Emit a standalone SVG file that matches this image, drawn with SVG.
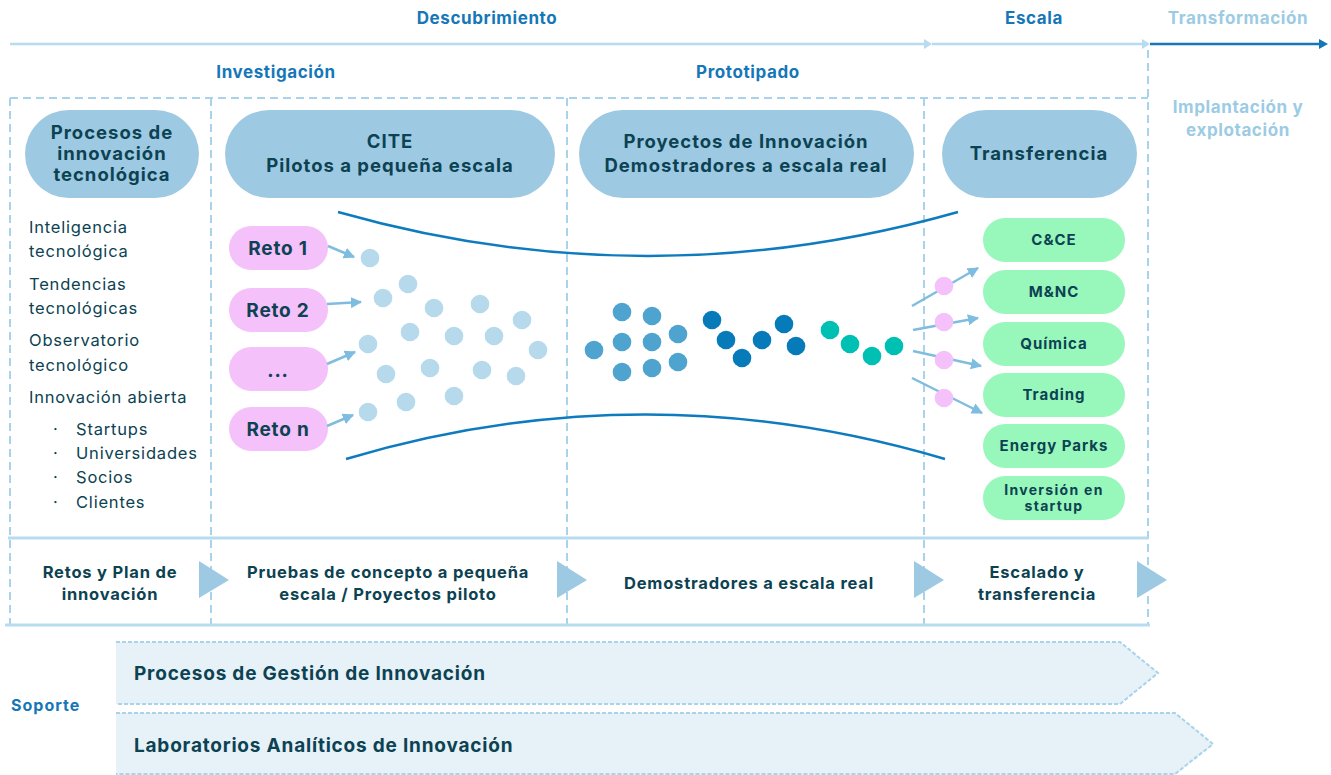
<svg xmlns="http://www.w3.org/2000/svg" width="1331" height="775" viewBox="0 0 1331 775">
<defs>
<style>
text{font-family:"Inter","Liberation Sans",sans-serif;}
.b{font-weight:700;}
.blue{fill:#1577b8;}
.lb{fill:#9ccbe4;}
.hd{font-size:17px;font-weight:700;letter-spacing:0.6px;}
.pill{fill:#9dcae2;}
.pt{font-size:18.5px;font-weight:700;fill:#0c4252;text-anchor:middle;letter-spacing:1px;}
.li{font-size:16.5px;fill:#0c4252;letter-spacing:0.8px;}
.reto{fill:#f4c1fa;}
.rt{font-size:19px;font-weight:700;fill:#0c4252;text-anchor:middle;letter-spacing:0.8px;}
.grn{fill:#98f7bb;}
.gt{font-size:15px;font-weight:700;fill:#0c4252;text-anchor:middle;letter-spacing:1px;}
.gs{font-size:14px;font-weight:700;fill:#0c4252;text-anchor:middle;letter-spacing:1.3px;}
.bt{font-size:16.5px;font-weight:700;fill:#0c4252;text-anchor:middle;letter-spacing:0.8px;}
.dash{stroke:#a9d3ea;stroke-width:2;stroke-dasharray:8 5;fill:none;}
.sol{stroke:#b7dcef;stroke-width:3;fill:none;}
.d1{fill:#b6d9ec;}
.d2{fill:#4fa3cf;}
.d3{fill:#077bba;}
.d4{fill:#00bfb3;}
.pk{fill:#f4c1fa;}
.arr{stroke:#7fbde0;stroke-width:2.5;fill:none;marker-end:url(#ah);}
.curve{stroke:#0e7bbf;stroke-width:2.5;fill:none;}
.tri{fill:#9dcae2;}
.band{fill:#e6f1f8;}
.bdash{stroke:#a9d3ea;stroke-width:2;stroke-dasharray:4 2;fill:none;}
.st{font-size:19px;font-weight:700;fill:#0c4252;letter-spacing:0.8px;}
</style>
<marker id="ah" viewBox="0 0 10 10" refX="9" refY="5" markerWidth="4.5" markerHeight="4.5" orient="auto" markerUnits="strokeWidth">
<path d="M0,0 L10,5 L0,10 z" fill="#7fbde0"/>
</marker>
</defs>
<rect width="1331" height="775" fill="#ffffff"/>

<!-- top phase arrow -->
<g id="phase-arrow">
<line x1="10" y1="44" x2="926" y2="44" stroke="#b7dcef" stroke-width="2.5"/>
<path d="M924,39 L932,44 L924,49 z" fill="#b7dcef"/>
<line x1="932" y1="44" x2="1144" y2="44" stroke="#b7dcef" stroke-width="2.5"/>
<path d="M1142,39 L1150,44 L1142,49 z" fill="#b7dcef"/>
<line x1="1150" y1="44" x2="1321" y2="44" stroke="#1577b8" stroke-width="2.5"/>
<path d="M1319,39 L1328,44 L1319,49 z" fill="#1577b8"/>
<text x="487" y="24" class="hd blue" text-anchor="middle">Descubrimiento</text>
<text x="1034" y="24" class="hd blue" text-anchor="middle">Escala</text>
<text x="1238" y="24" class="hd lb" text-anchor="middle">Transformación</text>
<text x="276" y="78" class="hd blue" text-anchor="middle">Investigación</text>
<text x="748" y="78" class="hd blue" text-anchor="middle">Prototipado</text>
<text x="1238" y="113" class="hd lb" text-anchor="middle">Implantación y</text>
<text x="1238" y="136" class="hd lb" text-anchor="middle">explotación</text>
</g>

<!-- frame -->
<g id="frame">
<line x1="10" y1="98" x2="1148" y2="98" class="dash"/>
<line x1="10" y1="98" x2="10" y2="625" class="dash"/>
<line x1="211" y1="98" x2="211" y2="625" class="dash"/>
<line x1="567" y1="98" x2="567" y2="625" class="dash"/>
<line x1="924" y1="98" x2="924" y2="625" class="dash"/>
<line x1="1148" y1="50" x2="1148" y2="625" class="dash"/>
<line x1="8" y1="538" x2="1148" y2="538" class="sol"/>
<line x1="5" y1="625" x2="1150" y2="625" class="sol"/>
</g>

<!-- column headers -->
<g id="procesos-innovacion">
<rect x="25" y="110" width="174" height="88" rx="44" class="pill"/>
<text x="112" y="139" class="pt">Procesos de</text>
<text x="112" y="160" class="pt">innovación</text>
<text x="112" y="181" class="pt">tecnológica</text>
</g>
<g id="cite">
<rect x="225" y="110" width="330" height="88" rx="44" class="pill"/>
<text x="390" y="148" class="pt">CITE</text>
<text x="390" y="172" class="pt">Pilotos a pequeña escala</text>
</g>
<g id="proyectos-innovacion">
<rect x="579" y="110" width="335" height="88" rx="44" class="pill"/>
<text x="746" y="148" class="pt">Proyectos de Innovación</text>
<text x="746" y="172" class="pt">Demostradores a escala real</text>
</g>
<g id="transferencia">
<rect x="942" y="110" width="195" height="88" rx="44" class="pill"/>
<text x="1039" y="160" class="pt">Transferencia</text>
</g>

<!-- left list -->
<g id="lista-procesos">
<text x="29" y="233" class="li">Inteligencia</text>
<text x="29" y="257" class="li">tecnológica</text>
<text x="29" y="290" class="li">Tendencias</text>
<text x="29" y="314" class="li">tecnológicas</text>
<text x="29" y="346" class="li">Observatorio</text>
<text x="29" y="371" class="li">tecnológico</text>
<text x="29" y="403" class="li">Innovación abierta</text>
<text x="53" y="435" class="li">·</text><text x="76" y="435" class="li">Startups</text>
<text x="53" y="459" class="li">·</text><text x="76" y="459" class="li">Universidades</text>
<text x="53" y="483" class="li">·</text><text x="76" y="483" class="li">Socios</text>
<text x="53" y="508" class="li">·</text><text x="76" y="508" class="li">Clientes</text>
</g>

<!-- retos -->
<g id="reto-1"><rect x="229" y="226" width="99" height="44" rx="22" class="reto"/><text x="278" y="255" class="rt">Reto 1</text></g>
<g id="reto-2"><rect x="229" y="288" width="99" height="44" rx="22" class="reto"/><text x="278" y="317" class="rt">Reto 2</text></g>
<g id="reto-dots"><rect x="229" y="347" width="99" height="44" rx="22" class="reto"/><text x="278" y="377" class="rt">...</text></g>
<g id="reto-n"><rect x="229" y="407" width="99" height="44" rx="22" class="reto"/><text x="278" y="436" class="rt">Reto n</text></g>

<!-- funnel curves -->
<g id="funnel">
<path d="M338,212 Q648,300 958,212" class="curve"/>
<path d="M346,459 Q645,370 945,459" class="curve"/>
</g>

<!-- dots -->
<g id="ideas">
<circle cx="370" cy="258" r="9.3" class="d1"/>
<circle cx="408" cy="284" r="9.3" class="d1"/>
<circle cx="383" cy="298" r="9.3" class="d1"/>
<circle cx="434" cy="308" r="9.3" class="d1"/>
<circle cx="480" cy="304" r="9.3" class="d1"/>
<circle cx="522" cy="320" r="9.3" class="d1"/>
<circle cx="410" cy="332" r="9.3" class="d1"/>
<circle cx="454" cy="336" r="9.3" class="d1"/>
<circle cx="494" cy="336" r="9.3" class="d1"/>
<circle cx="368" cy="344" r="9.3" class="d1"/>
<circle cx="538" cy="350" r="9.3" class="d1"/>
<circle cx="386" cy="374" r="9.3" class="d1"/>
<circle cx="430" cy="368" r="9.3" class="d1"/>
<circle cx="482" cy="370" r="9.3" class="d1"/>
<circle cx="516" cy="376" r="9.3" class="d1"/>
<circle cx="406" cy="402" r="9.3" class="d1"/>
<circle cx="454" cy="396" r="9.3" class="d1"/>
<circle cx="368" cy="412" r="9.3" class="d1"/>
</g>
<g id="demostradores">
<circle cx="594" cy="350" r="9.3" class="d2"/>
<circle cx="622" cy="312" r="9.3" class="d2"/>
<circle cx="622" cy="342" r="9.3" class="d2"/>
<circle cx="622" cy="372" r="9.3" class="d2"/>
<circle cx="652" cy="316" r="9.3" class="d2"/>
<circle cx="652" cy="342" r="9.3" class="d2"/>
<circle cx="652" cy="368" r="9.3" class="d2"/>
<circle cx="678" cy="334" r="9.3" class="d2"/>
<circle cx="678" cy="362" r="9.3" class="d2"/>
<circle cx="712" cy="320" r="9.3" class="d3"/>
<circle cx="726" cy="340" r="9.3" class="d3"/>
<circle cx="742" cy="358" r="9.3" class="d3"/>
<circle cx="762" cy="340" r="9.3" class="d3"/>
<circle cx="784" cy="324" r="9.3" class="d3"/>
<circle cx="796" cy="346" r="9.3" class="d3"/>
<circle cx="830" cy="330" r="9.3" class="d4"/>
<circle cx="850" cy="344" r="9.3" class="d4"/>
<circle cx="872" cy="356" r="9.3" class="d4"/>
<circle cx="894" cy="346" r="9.3" class="d4"/>
</g>

<!-- connectors -->
<g id="connectors">
<line x1="328" y1="246" x2="354" y2="257" class="arr"/>
<line x1="327" y1="304" x2="361" y2="302" class="arr"/>
<line x1="327" y1="364" x2="355" y2="352" class="arr"/>
<line x1="327" y1="426" x2="353" y2="415" class="arr"/>
<line x1="912" y1="306" x2="978" y2="268" class="arr"/>
<line x1="913" y1="330" x2="978" y2="318" class="arr"/>
<line x1="913" y1="351" x2="981" y2="366" class="arr"/>
<line x1="912" y1="378" x2="982" y2="413" class="arr"/>
</g>
<g id="transfer-points">
<circle cx="944" cy="286" r="9.3" class="pk"/>
<circle cx="944" cy="322" r="9.3" class="pk"/>
<circle cx="944" cy="360" r="9.3" class="pk"/>
<circle cx="944" cy="398" r="9.3" class="pk"/>
</g>

<!-- business units -->
<g id="cce"><rect x="983" y="218" width="142" height="44" rx="22" class="grn"/><text x="1054" y="245" class="gt">C&amp;CE</text></g>
<g id="mnc"><rect x="983" y="270" width="142" height="44" rx="22" class="grn"/><text x="1054" y="297" class="gt">M&amp;NC</text></g>
<g id="quimica"><rect x="983" y="322" width="142" height="44" rx="22" class="grn"/><text x="1054" y="349" class="gt">Química</text></g>
<g id="trading"><rect x="983" y="373" width="142" height="44" rx="22" class="grn"/><text x="1054" y="400" class="gt">Trading</text></g>
<g id="energy-parks"><rect x="983" y="424" width="142" height="44" rx="22" class="grn"/><text x="1054" y="451" class="gt">Energy Parks</text></g>
<g id="inversion-startup"><rect x="983" y="476" width="142" height="44" rx="22" class="grn"/><text x="1054" y="495" class="gs">Inversión en</text><text x="1054" y="511" class="gs">startup</text></g>

<!-- bottom stages -->
<g id="stage-retos"><text x="110" y="578" class="bt">Retos y Plan de</text><text x="110" y="600" class="bt">innovación</text></g>
<g id="stage-pruebas"><text x="388" y="578" class="bt">Pruebas de concepto a pequeña</text><text x="388" y="600" class="bt">escala / Proyectos piloto</text></g>
<g id="stage-demostradores"><text x="749" y="589" class="bt">Demostradores a escala real</text></g>
<g id="stage-escalado"><text x="1037" y="578" class="bt">Escalado y</text><text x="1037" y="600" class="bt">transferencia</text></g>
<g id="stage-arrows">
<path d="M199,561 L229,580 L199,598 z" class="tri"/>
<path d="M557,561 L587,580 L557,598 z" class="tri"/>
<path d="M914,561 L944,580 L914,598 z" class="tri"/>
<path d="M1137,561 L1167,580 L1137,598 z" class="tri"/>
</g>

<!-- soporte -->
<g id="soporte">
<text x="11" y="711" font-size="16" letter-spacing="1" class="b blue">Soporte</text>
</g>
<g id="gestion-innovacion">
<path d="M116,642 L1120,642 L1158,673 L1120,704 L116,704 z" class="band"/>
<path d="M116,642 L1120,642 L1158,673 L1120,704 L116,704" class="bdash"/>
<text x="134" y="680" class="st">Procesos de Gestión de Innovación</text>
</g>
<g id="laboratorios">
<path d="M116,713 L1175,713 L1213,744 L1175,775 L116,775 z" class="band"/>
<path d="M116,713 L1175,713 L1213,744 L1175,774 L116,774" class="bdash"/>
<text x="134" y="752" class="st">Laboratorios Analíticos de Innovación</text>
</g>
</svg>
